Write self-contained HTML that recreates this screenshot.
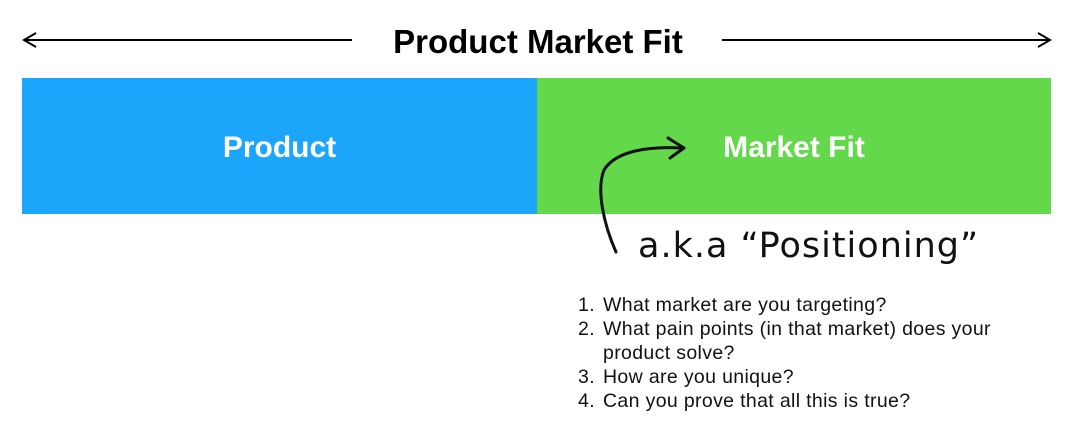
<!DOCTYPE html>
<html><head><style>
body{margin:0;width:1079px;height:431px;background:#fff;position:relative;overflow:hidden;font-family:"Liberation Sans",sans-serif}
.abs{position:absolute}
.title{left:288px;top:23px;width:500px;text-align:center;font-weight:bold;font-size:33px;color:#000}
.box{top:78px;height:136px;color:#fff;font-weight:bold;font-size:30px;display:flex;align-items:center;justify-content:center}
.list{left:578px;top:293px;font-size:19.5px;line-height:24px;letter-spacing:0.35px;color:#111}
.list div{position:relative;padding-left:25px}
.list span{position:absolute;left:0}
</style></head><body>
<div class="abs title">Product Market Fit</div>
<svg class="abs" style="left:0;top:0" width="1079" height="431">
<line x1="24" y1="40" x2="352" y2="40" stroke="#000" stroke-width="2"/>
<polyline points="36,33 24,40 36,47" fill="none" stroke="#000" stroke-width="2"/>
<line x1="722" y1="40" x2="1050" y2="40" stroke="#000" stroke-width="2"/>
<polyline points="1038,33 1050,40 1038,47" fill="none" stroke="#000" stroke-width="2"/>
</svg>
<div class="abs box" style="left:22px;width:515px;background:#1ba5fb;padding-top:4px;box-sizing:border-box">Product</div>
<div class="abs box" style="left:537px;width:514px;background:#62d84a;padding-top:4px;box-sizing:border-box">Market Fit</div>
<svg class="abs" style="left:0;top:0" width="1079" height="431">
<path d="M616,252 C604,225 596,190 604,170 C615,152 645,146 682,148" fill="none" stroke="#111" stroke-width="3" stroke-linecap="round"/>
<polyline points="668,138 684,148 670,158" fill="none" stroke="#111" stroke-width="3" stroke-linecap="round" stroke-linejoin="round"/>
</svg>
<div class="abs" style="left:638px;top:226px;font-size:35px;font-family:'DejaVu Sans',sans-serif;letter-spacing:1px;color:#111">a.k.a “Positioning”</div>
<div class="abs list">
<div><span>1.</span>What market are you targeting?</div>
<div><span>2.</span>What pain points (in that market) does your<br>product solve?</div>
<div><span>3.</span>How are you unique?</div>
<div><span>4.</span>Can you prove that all this is true?</div>
</div>
</body></html>
